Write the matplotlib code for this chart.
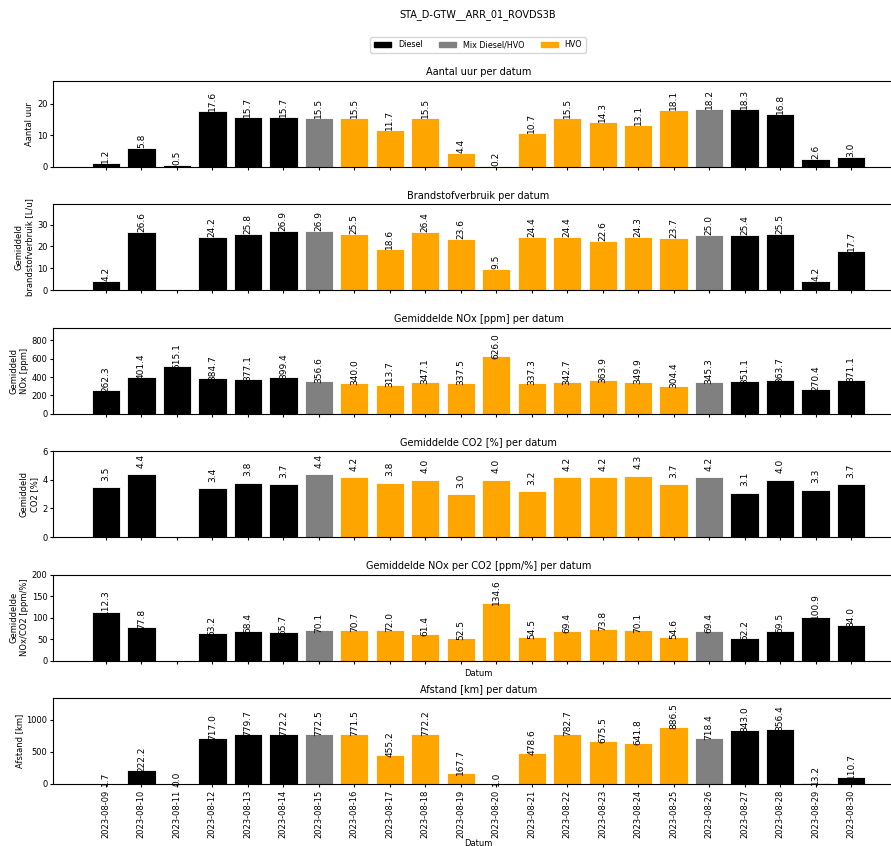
import numpy as np
import matplotlib
matplotlib.use('Agg')
import matplotlib.pyplot as plt
from matplotlib.patches import Patch

# data
dates = ['2023-08-%02d' % d for d in range(9, 31)]
fuel_type = ['Diesel'] * 6 + ['Mix Diesel/HVO'] + ['HVO'] * 10 + ['Mix Diesel/HVO'] + ['Diesel'] * 4

uren = [1.2, 5.8, 0.5, 17.6, 15.7, 15.7, 15.5, 15.5, 11.7, 15.5, 4.4,
        0.2, 10.7, 15.5, 14.3, 13.1, 18.1, 18.2, 18.3, 16.8, 2.6, 3.0]
verbruik = [4.2, 26.6, np.nan, 24.2, 25.8, 26.9, 26.9, 25.5, 18.6, 26.4, 23.6,
            9.5, 24.4, 24.4, 22.6, 24.3, 23.7, 25.0, 25.4, 25.5, 4.2, 17.7]
nox = [262.3, 401.4, 515.1, 384.7, 377.1, 399.4, 356.6, 340.0, 313.7, 347.1, 337.5,
       626.0, 337.3, 342.7, 363.9, 349.9, 304.4, 345.3, 351.1, 363.7, 270.4, 371.1]
co2 = [3.5, 4.4, np.nan, 3.4, 3.8, 3.7, 4.4, 4.2, 3.8, 4.0, 3.0,
       4.0, 3.2, 4.2, 4.2, 4.3, 3.7, 4.2, 3.1, 4.0, 3.3, 3.7]
nox_co2 = [112.3, 77.8, np.nan, 63.2, 68.4, 65.7, 70.1, 70.7, 72.0, 61.4, 52.5,
           134.6, 54.5, 69.4, 73.8, 70.1, 54.6, 69.4, 52.2, 69.5, 100.9, 84.0]
afstand = [1.7, 222.2, 0.0, 717.0, 779.7, 772.2, 772.5, 771.5, 455.2, 772.2, 167.7,
           1.0, 478.6, 782.7, 675.5, 641.8, 886.5, 718.4, 843.0, 856.4, 13.2, 110.7]

kleuren = {'Diesel': 'black', 'Mix Diesel/HVO': 'grey', 'HVO': 'orange'}

panels = [
    (uren, 'Aantal uur per datum', 'Aantal uur', 27.2, 0.0),
    (verbruik, 'Brandstofverbruik per datum', 'Gemiddeld\nbrandstofverbruik [L/u]', 39.2, 0.0),
    (nox, 'Gemiddelde NOx [ppm] per datum', 'Gemiddeld\nNOx [ppm]', 937, -25),
    (co2, 'Gemiddelde CO2 [%] per datum', 'Gemiddeld\nCO2 [%]', 6, 0.45),
    (nox_co2, 'Gemiddelde NOx per CO2 [ppm/%] per datum', 'Gemiddelde\nNOx/CO2 [ppm/%]', 200, -5),
    (afstand, 'Afstand [km] per datum', 'Afstand [km]', 1335, -30),
]

fig, axes = plt.subplots(6, 1, figsize=(8.91, 8.46), dpi=100)
fig.subplots_adjust(left=0.0595, right=1.0146, bottom=0.0733, top=0.9043, hspace=0.44)

x = np.arange(len(dates))
bar_colors = [kleuren[f] for f in fuel_type]

for i, (ax, (vals, titel, ylab, ytop, offs)) in enumerate(zip(axes, panels)):
    ax.bar(x, vals, width=0.8, color=bar_colors, edgecolor='white', linewidth=0.6)
    for xi, v in zip(x, vals):
        if np.isnan(v):
            continue
        ax.text(xi, v + offs, '%.1f' % v, rotation=90, ha='center', va='bottom', fontsize=6.5)
    ax.set_title(titel, fontsize=7, pad=4)
    ax.set_ylabel(ylab, fontsize=6, labelpad=2)
    ax.set_ylim(0, ytop)
    ax.set_xticks(x)
    ax.tick_params(axis='both', labelsize=6, length=2.5, pad=1.5)
    if i < 5:
        ax.set_xticklabels([])
        if i == 4:
            ax.set_xlabel('Datum', fontsize=6, labelpad=2)
    else:
        ax.set_xticklabels(dates, rotation=90, fontsize=6.0)
        ax.set_xlabel('Datum', fontsize=6, labelpad=0.5)

fig.suptitle('STA_D-GTW__ARR_01_ROVDS3B', x=478 / 891, y=0.983, fontsize=7, va='center')

handles = [Patch(color=kleuren[k], label=k) for k in ['Diesel', 'Mix Diesel/HVO', 'HVO']]
fig.legend(handles=handles, loc='center', bbox_to_anchor=(478 / 891, 0.947), ncol=3,
           fontsize=5.8, handlelength=2.2, columnspacing=2.0, frameon=True)

fig.savefig('out.png', dpi=100)
